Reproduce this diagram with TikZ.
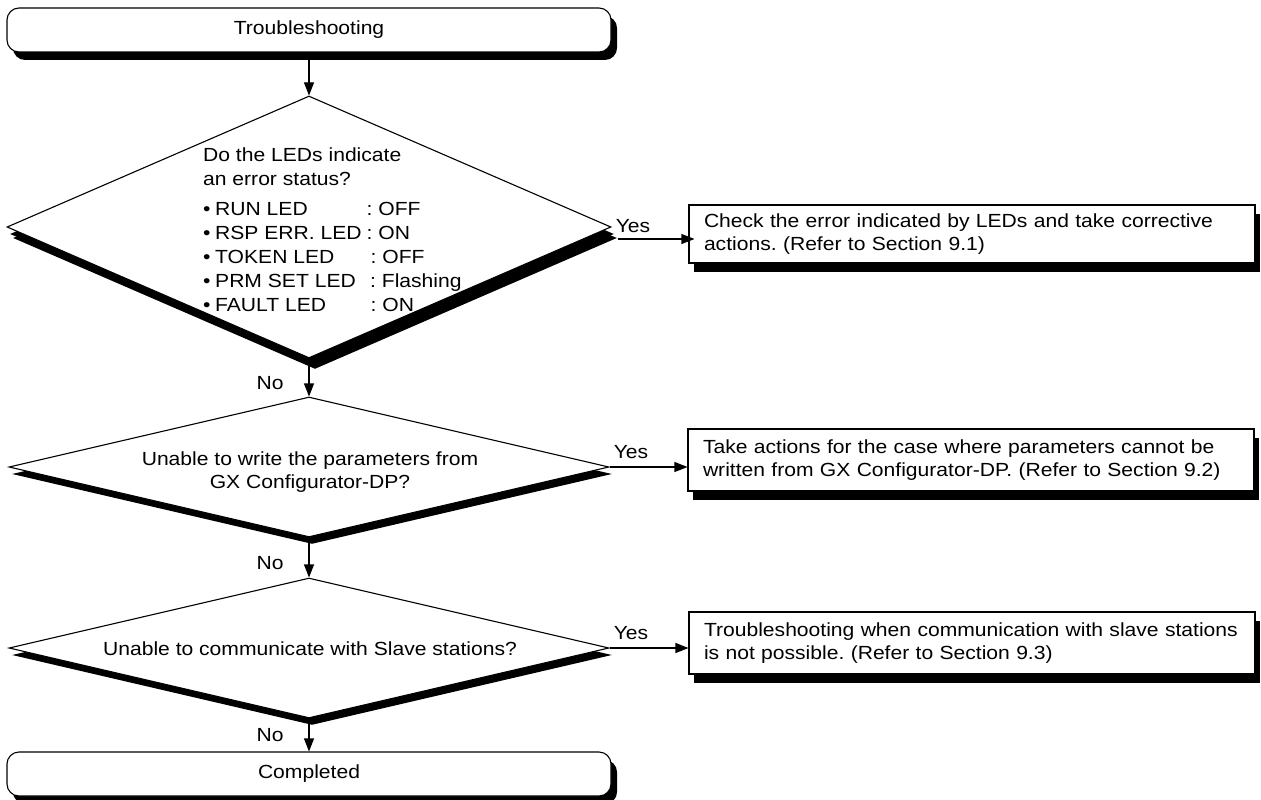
\documentclass[tikz,border=0pt]{standalone}
\usepackage{fontspec}
\setmainfont{Liberation Sans}[FakeStretch=1.11]
\usetikzlibrary{arrows.meta,shapes.geometric,shadows,calc}
\frenchspacing
\begin{document}
\begin{tikzpicture}[x=1pt,y=-1pt,
  every node/.style={font=\fontsize{19}{23.4}\selectfont},
  base/.style={draw, line width=1.1pt, fill=white, inner sep=0pt},
  term/.style={base, rectangle, rounded corners=12pt, minimum width=604pt, minimum height=44pt,
    drop shadow={shadow xshift=6pt, shadow yshift=-8pt, fill=black, opacity=1}},
  dec/.style={base, diamond, minimum width=600pt, minimum height=140pt,
    drop shadow={shadow xshift=3pt, shadow yshift=-7pt, fill=black, opacity=1}},
  actbox/.style={base, rectangle, minimum height=62pt, text width=536pt, inner xsep=15pt, align=left,
    drop shadow={shadow xshift=5pt, shadow yshift=-9pt, fill=black, opacity=1}},
  arr/.style={line width=1.1pt, -{Triangle[length=13pt,width=10pt]}},
  lbl/.style={inner sep=0pt},
  ln/.style={inner sep=0pt, anchor=base west}
]
\useasboundingbox (0,0) rectangle (1261,800);

\node[term] (T1) at (309,30) {Troubleshooting};

\node[dec, minimum width=604pt, minimum height=262pt,
  drop shadow={shadow xshift=6pt, shadow yshift=-11pt, fill=black, opacity=1}] (D1) at (309,227) {};
\node[ln] (D1a) at (203,161.7) {Do the LEDs indicate};
\node[ln] (D1b) at (203,185) {an error status?};
\node[ln] (D1c) at (203,215) {\textbullet};
\node[ln] (D1d) at (203,239.2) {\textbullet};
\node[ln] (D1e) at (203,263.4) {\textbullet};
\node[ln] (D1f) at (203,287.6) {\textbullet};
\node[ln] (D1g) at (203,311.8) {\textbullet};
\node[ln] (D1c1) at (215,215) {RUN LED};
\node[ln] (D1d1) at (215,239.2) {RSP ERR. LED};
\node[ln] (D1e1) at (215,263.4) {TOKEN LED};
\node[ln] (D1f1) at (215,287.6) {PRM SET LED};
\node[ln] (D1g1) at (215,311.8) {FAULT LED};
\node[ln] (D1c2) at (366.5,215) {: OFF};
\node[ln] (D1d2) at (366.5,239.2) {: ON};
\node[ln] (D1e2) at (370.5,263.4) {: OFF};
\node[ln] (D1f2) at (370,287.6) {: Flashing};
\node[ln] (D1g2) at (370.5,311.8) {: ON};

\node[dec] (D2) at (309,467) {};
\node[lbl, align=center] (D2t) at (310,472) {Unable to write the parameters from\\GX Configurator-DP?};

\node[dec] (D3) at (309,648) {};
\node[lbl] (D3t) at (310,649) {Unable to communicate with Slave stations?};

\node[term] (T2) at (309,774) {Completed};

\node[actbox, minimum height=58pt] (B1) at (972,234) {Check the error indicated by LEDs and take corrective\\actions. (Refer to Section 9.1)};
\node[actbox] (B2) at (971,460) {Take actions for the case where parameters cannot be\\written from GX Configurator-DP. (Refer to Section 9.2)};
\node[actbox] (B3) at (972,643) {Troubleshooting when communication with slave stations\\is not possible. (Refer to Section 9.3)};

\draw[arr] (T1.south) -- (D1.north);
\draw[arr] (D1.south) -- (D2.north);
\draw[arr] (D2.south) -- (D3.north);
\draw[arr] (D3.south) -- (T2.north);

\draw[arr] ([xshift=6pt,yshift=-12pt]D1.east) -- ([xshift=6pt,yshift=-12pt]D1.east -| B1.west);
\draw[arr] (D2.east) -- (D2.east -| B2.west);
\draw[arr] (D3.east) -- (D3.east -| B3.west);

\node[lbl] (Y1) at (633,226) {Yes};
\node[lbl] (Y2) at (631,452) {Yes};
\node[lbl] (Y3) at (631,633) {Yes};
\node[lbl] (N1) at (270,383) {No};
\node[lbl] (N2) at (270,563) {No};
\node[lbl] (N3) at (270,735) {No};
\end{tikzpicture}
\end{document}
